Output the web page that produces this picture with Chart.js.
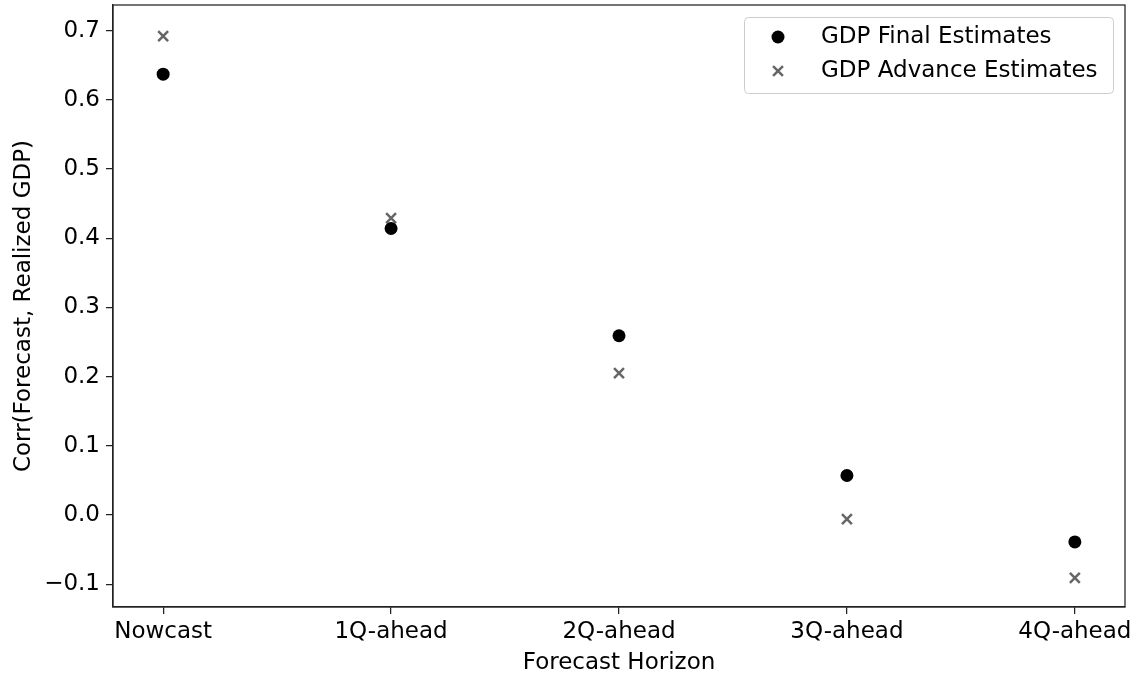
<!DOCTYPE html>
<html>
<head>
<meta charset="utf-8">
<script src="https://cdn.jsdelivr.net/npm/chart.js@4.4.1/dist/chart.umd.min.js"></script>
<style>
  html, body { margin: 0; padding: 0; background: #fff; }
  #wrap { width: 1138px; height: 677px; position: relative; }
</style>
</head>
<body>
<div id="wrap"><canvas id="chart" width="1138" height="677"></canvas></div>
<script>
// Forecast horizons and correlation of forecasts with realized GDP
const horizons = ['Nowcast', '1Q-ahead', '2Q-ahead', '3Q-ahead', '4Q-ahead'];
const finalEstimates = [0.637, 0.414, 0.259, 0.057, -0.039];
const advanceEstimates = [0.692, 0.429, 0.205, -0.006, -0.091];
const yTickValues = [-0.1, 0.0, 0.1, 0.2, 0.3, 0.4, 0.5, 0.6, 0.7];

const FONT = '"DejaVu Sans", sans-serif';
const FSIZE = 23;
const crossColor = '#666666';

const toPoints = arr => arr.map((v, i) => ({ x: i, y: v }));

// Full box frame around the plot area
const frame = {
  id: 'frame',
  afterDatasetsDraw(chart) {
    const { ctx, chartArea: a } = chart;
    ctx.save();
    ctx.strokeStyle = '#222';
    ctx.lineWidth = 1.25;
    ctx.strokeRect(a.left, a.top, a.right - a.left, a.bottom - a.top);
    ctx.restore();
  }
};

// Boxed legend in the upper right corner of the plot
const boxLegend = {
  id: 'boxLegend',
  afterDraw(chart) {
    const { ctx } = chart;
    const x0 = 744, y0 = 17, w = 369, h = 76, r = 4;
    ctx.save();
    ctx.fillStyle = 'rgba(255,255,255,0.8)';
    ctx.strokeStyle = '#cccccc';
    ctx.lineWidth = 1;
    ctx.beginPath();
    ctx.roundRect(x0 + 0.5, y0 + 0.5, w, h, r);
    ctx.fill();
    ctx.stroke();
    const rows = [
      { label: 'GDP Final Estimates', y: 37, ds: 0 },
      { label: 'GDP Advance Estimates', y: 71, ds: 1 }
    ];
    rows.forEach(row => {
      const ds = chart.data.datasets[row.ds];
      ctx.fillStyle = ds.backgroundColor;
      ctx.strokeStyle = ds.borderColor;
      ctx.lineWidth = ds.borderWidth;
      ctx.beginPath();
      if (ds.pointStyle === 'circle') {
        ctx.arc(778, row.y, ds.pointRadius, 0, Math.PI * 2);
        ctx.fill();
      } else {
        const d = ds.pointRadius * Math.SQRT1_2;
        ctx.moveTo(778 - d, row.y - d); ctx.lineTo(778 + d, row.y + d);
        ctx.moveTo(778 - d, row.y + d); ctx.lineTo(778 + d, row.y - d);
        ctx.stroke();
      }
      ctx.fillStyle = '#000';
      ctx.font = FSIZE + 'px ' + FONT;
      ctx.textBaseline = 'middle';
      ctx.textAlign = 'left';
      ctx.fillText(row.label, 821, row.y);
    });
    ctx.restore();
  }
};

new Chart(document.getElementById('chart'), {
  type: 'scatter',
  data: {
    datasets: [
      {
        label: 'GDP Final Estimates',
        data: toPoints(finalEstimates),
        pointStyle: 'circle',
        pointRadius: 6.5,
        pointHoverRadius: 6.5,
        backgroundColor: '#000000',
        borderColor: '#000000',
        borderWidth: 0
      },
      {
        label: 'GDP Advance Estimates',
        data: toPoints(advanceEstimates),
        pointStyle: 'crossRot',
        pointRadius: 7,
        pointHoverRadius: 7,
        backgroundColor: crossColor,
        borderColor: crossColor,
        borderWidth: 2.5
      }
    ]
  },
  options: {
    responsive: false,
    animation: false,
    events: [],
    layout: { autoPadding: false, padding: { top: 5, right: 13, left: 0, bottom: 0 } },
    plugins: {
      legend: { display: false },
      tooltip: { enabled: false }
    },
    scales: {
      x: {
        type: 'linear',
        min: -0.22,
        max: 4.22,
        afterBuildTicks(scale) { scale.ticks = horizons.map((_, i) => ({ value: i })); },
        afterFit(scale) {
          scale.height = 70;
          scale.paddingLeft = 0;
          scale.paddingRight = 0;
        },
        border: { display: true, color: '#222', width: 1.25 },
        grid: { drawOnChartArea: false, drawTicks: true, tickLength: 7, color: '#222', lineWidth: 1.25 },
        ticks: {
          autoSkip: false,
          maxRotation: 0,
          padding: 4,
          color: '#000',
          font: { family: FONT, size: FSIZE },
          callback: v => horizons[Math.round(v)]
        },
        title: {
          display: true,
          text: 'Forecast Horizon',
          color: '#000',
          font: { family: FONT, size: FSIZE },
          padding: { top: 0, bottom: 0 }
        }
      },
      y: {
        min: -0.133,
        max: 0.737,
        afterBuildTicks(scale) { scale.ticks = yTickValues.map(v => ({ value: v })); },
        afterFit(scale) {
          scale.width = 113;
          scale.paddingTop = 0;
          scale.paddingBottom = 0;
        },
        border: { display: true, color: '#222', width: 1.25 },
        grid: { drawOnChartArea: false, drawTicks: true, tickLength: 7, color: '#222', lineWidth: 1.25 },
        ticks: {
          autoSkip: false,
          padding: 6,
          color: '#000',
          font: { family: FONT, size: FSIZE },
          callback: v => (v < 0 ? '\u2212' : '') + Math.abs(v).toFixed(1)
        },
        title: {
          display: true,
          text: 'Corr(Forecast, Realized GDP)',
          color: '#000',
          font: { family: FONT, size: FSIZE },
          padding: { top: 10, bottom: 0 }
        }
      }
    }
  },
  plugins: [frame, boxLegend]
});
</script>
</body>
</html>
